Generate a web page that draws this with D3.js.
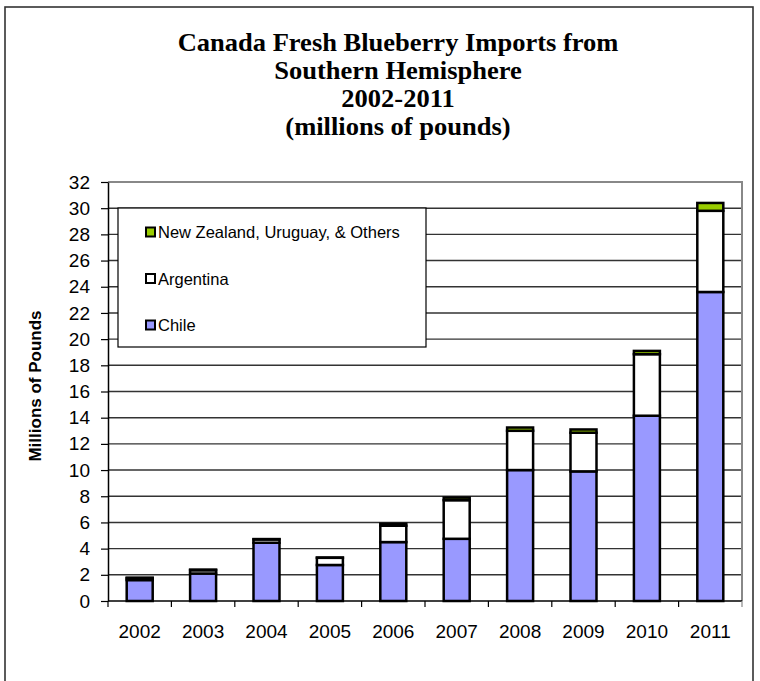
<!DOCTYPE html>
<html>
<head>
<meta charset="utf-8">
<script src="https://cdnjs.cloudflare.com/ajax/libs/d3/7.8.5/d3.min.js"></script>
<style>
  body { margin: 0; background: #fff; }
  svg { display: block; }
  .sans { font-family: Arial, "Liberation Sans", Helvetica, sans-serif; }
  .serif { font-family: "Times New Roman", "Liberation Serif", Times, serif; }
</style>
</head>
<body>
<svg id="chart"></svg>
<script>
// Data (millions of pounds)
const years = ['2002', '2003', '2004', '2005', '2006', '2007', '2008', '2009', '2010', '2011'];
const chile = [1.6, 2.1, 4.45, 2.75, 4.5, 4.75, 10.0, 9.9, 14.15, 23.6];
const argentina = [0.15, 0.25, 0.25, 0.55, 1.25, 2.95, 3.0, 2.95, 4.7, 6.2];
const others = [0.03, 0.05, 0.03, 0.02, 0.15, 0.2, 0.25, 0.25, 0.25, 0.6];
const seriesNames = ['Chile', 'Argentina', 'New Zealand, Uruguay, & Others'];
const yTicks = d3.range(0, 33, 2);
const titleLines = ['Canada Fresh Blueberry Imports from', 'Southern Hemisphere', '2002-2011', '(millions of pounds)'];

const colors = { 'Chile': '#9999ff', 'Argentina': '#ffffff', 'New Zealand, Uruguay, & Others': '#99cc00' };

const W = 760, H = 681;
const margin = { top: 182, right: 18, bottom: 80, left: 108 };
const width = 742 - margin.left;
const height = 601 - margin.top;

const svg = d3.select('#chart').attr('width', W).attr('height', H);

// outer frame
svg.append('rect')
    .attr('x', 5).attr('y', 7)
    .attr('width', 748).attr('height', 690)
    .attr('fill', 'none')
    .attr('stroke', '#333').attr('stroke-width', 1.6);

// title
svg.append('text')
    .attr('class', 'serif')
    .attr('transform', 'translate(398,51) scale(1.04,1)')
    .attr('text-anchor', 'middle')
    .style('font-weight', 'bold')
    .style('font-size', '25.5px')
  .selectAll('tspan')
  .data(titleLines)
  .enter().append('tspan')
    .attr('x', 0)
    .attr('dy', (d, i) => i === 0 ? 0 : 28)
    .text(d => d);

const g = svg.append('g').attr('transform', `translate(${margin.left},${margin.top})`);

const x = d3.scaleBand().domain(years).range([0, width]).paddingInner(0.59).paddingOuter(0.295);
const xb = d3.scaleBand().domain(years).range([0, width]);
const y = d3.scaleLinear().domain([0, 32]).range([height, 0]);

// gridlines
g.append('g')
    .selectAll('line')
    .data(yTicks.filter(d => d > 0 && d < 32))
    .enter().append('line')
    .attr('x1', 0).attr('x2', width)
    .attr('y1', d => y(d)).attr('y2', d => y(d))
    .attr('stroke', '#333').attr('stroke-width', 1.4);

// plot frame top/right
g.append('path')
    .attr('d', `M0,0H${width}V${height}`)
    .attr('fill', 'none')
    .attr('stroke', '#888').attr('stroke-width', 2);

// stacked bars
const rows = years.map((yr, i) => ({ year: yr, 'Chile': chile[i], 'Argentina': argentina[i], 'New Zealand, Uruguay, & Others': others[i] }));
const stack = d3.stack().keys(seriesNames)(rows);

g.selectAll('.series')
    .data(stack)
    .enter().append('g')
    .attr('class', 'series')
    .attr('fill', d => colors[d.key])
  .selectAll('rect')
    .data(d => d)
    .enter().append('rect')
    .attr('x', d => x(d.data.year))
    .attr('width', x.bandwidth())
    .attr('y', d => y(d[1]))
    .attr('height', d => y(d[0]) - y(d[1]))
    .attr('stroke', '#000')
    .attr('stroke-width', 2.5);

// y axis
const yAxis = g.append('g')
    .call(d3.axisLeft(y).tickValues(yTicks).tickSize(7).tickPadding(11).tickSizeOuter(0));
yAxis.attr('font-family', null);
yAxis.select('.domain').attr('stroke', '#000').attr('stroke-width', 1.5);
yAxis.selectAll('.tick line').attr('stroke', '#000').attr('stroke-width', 1.2);
yAxis.selectAll('text')
    .attr('class', 'sans')
    .style('font-size', '19px')
    .attr('fill', '#000');

// x axis: ticks at category boundaries
const xAxisG = g.append('g').attr('transform', `translate(0,${height})`);
xAxisG.append('line')
    .attr('x1', 0).attr('x2', width)
    .attr('stroke', '#000').attr('stroke-width', 1.5);
xAxisG.selectAll('.bound')
    .data(years.concat(['end']))
    .enter().append('line')
    .attr('x1', (d, i) => i * xb.step()).attr('x2', (d, i) => i * xb.step())
    .attr('y1', 0).attr('y2', 6)
    .attr('stroke', (d, i) => i === years.length ? '#888' : '#000')
    .attr('stroke-width', 1.2);
xAxisG.selectAll('.xlab')
    .data(years)
    .enter().append('text')
    .attr('class', 'sans')
    .attr('x', d => xb(d) + xb.bandwidth() / 2)
    .attr('y', 37)
    .attr('text-anchor', 'middle')
    .style('font-size', '19px')
    .text(d => d);

// y axis title
svg.append('text')
    .attr('class', 'sans')
    .attr('transform', `translate(41,386) rotate(-90)`)
    .attr('text-anchor', 'middle')
    .style('font-weight', 'bold')
    .style('font-size', '17px')
    .text('Millions of Pounds');

// legend
const legend = svg.append('g').attr('transform', 'translate(118,208)');
legend.append('rect')
    .attr('width', 308).attr('height', 139)
    .attr('fill', '#fff')
    .attr('stroke', '#000').attr('stroke-width', 1.2);
const legendItems = seriesNames.slice().reverse();
const li = legend.selectAll('.item')
    .data(legendItems)
    .enter().append('g')
    .attr('transform', (d, i) => `translate(28,${24 + i * 46.5})`);
li.append('rect')
    .attr('x', 0).attr('y', -4.5)
    .attr('width', 9).attr('height', 9)
    .attr('fill', d => colors[d])
    .attr('stroke', '#000').attr('stroke-width', 2);
li.append('text')
    .attr('class', 'sans')
    .attr('x', 12).attr('y', 6)
    .style('font-size', '16.5px')
    .text(d => d);
</script>
</body>
</html>
